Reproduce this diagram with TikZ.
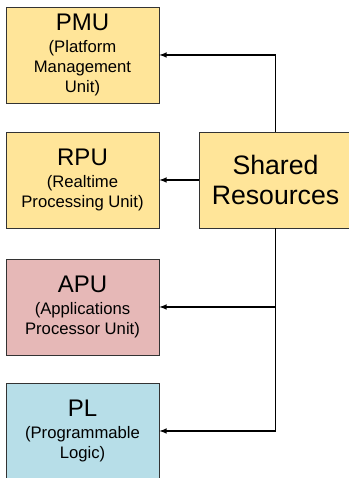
\documentclass[tikz,border=0pt]{standalone}
\usepackage{fontspec}
\setmainfont{Liberation Sans}

\definecolor{unityellow}{RGB}{255,229,153}
\definecolor{unitred}{RGB}{230,184,183}
\definecolor{unitblue}{RGB}{183,222,232}

\tikzstyle{unit}=[rectangle,
    draw=black!80,
    line width=0.6pt,
    minimum height=72pt,
    minimum width=114.75pt,
    inner sep=0pt,
    align=center,
    font=\fontsize{12.5}{15}\selectfont]
\tikzstyle{link} = [draw, line width=0.9pt, -latex]

\begin{document}
\begin{tikzpicture}[x=0.75pt,y=0.75pt]
                \useasboundingbox (0,0) rectangle (349,478);
                \clip (0,0) rectangle (349,478);
                \fill[white] (0,0) rectangle (349,478);
                % processing units on the left, shared block on the right
                \node (pmu) [unit,fill=unityellow] at (82.5,423)
                    {{\fontsize{18}{20}\selectfont PMU}\\[2pt](Platform\\Management\\Unit)};
                \node (rpu) [unit,fill=unityellow] at (82.5,298)
                    {{\fontsize{18}{20}\selectfont RPU}\\[2pt](Realtime\\Processing Unit)};
                \node (apu) [unit,fill=unitred] at (82.5,171)
                    {{\fontsize{18}{20}\selectfont APU}\\[2pt](Applications\\Processor Unit)};
                \node (pl) [unit,fill=unitblue] at (82.5,47)
                    {{\fontsize{18}{20}\selectfont PL}\\[2pt](Programmable\\Logic)};
                \node (shared) [unit,fill=unityellow,font=\fontsize{20}{22}\selectfont] at (275.5,298)
                    {Shared\\Resources};
                \draw [link] (shared.north) |- (pmu.east);
                \draw [link] (shared.west) -- (rpu.east);
                \draw [link] (shared.south) |- (apu.east);
                \draw [link] (shared.south) |- (pl.east);
            \end{tikzpicture}
\end{document}
